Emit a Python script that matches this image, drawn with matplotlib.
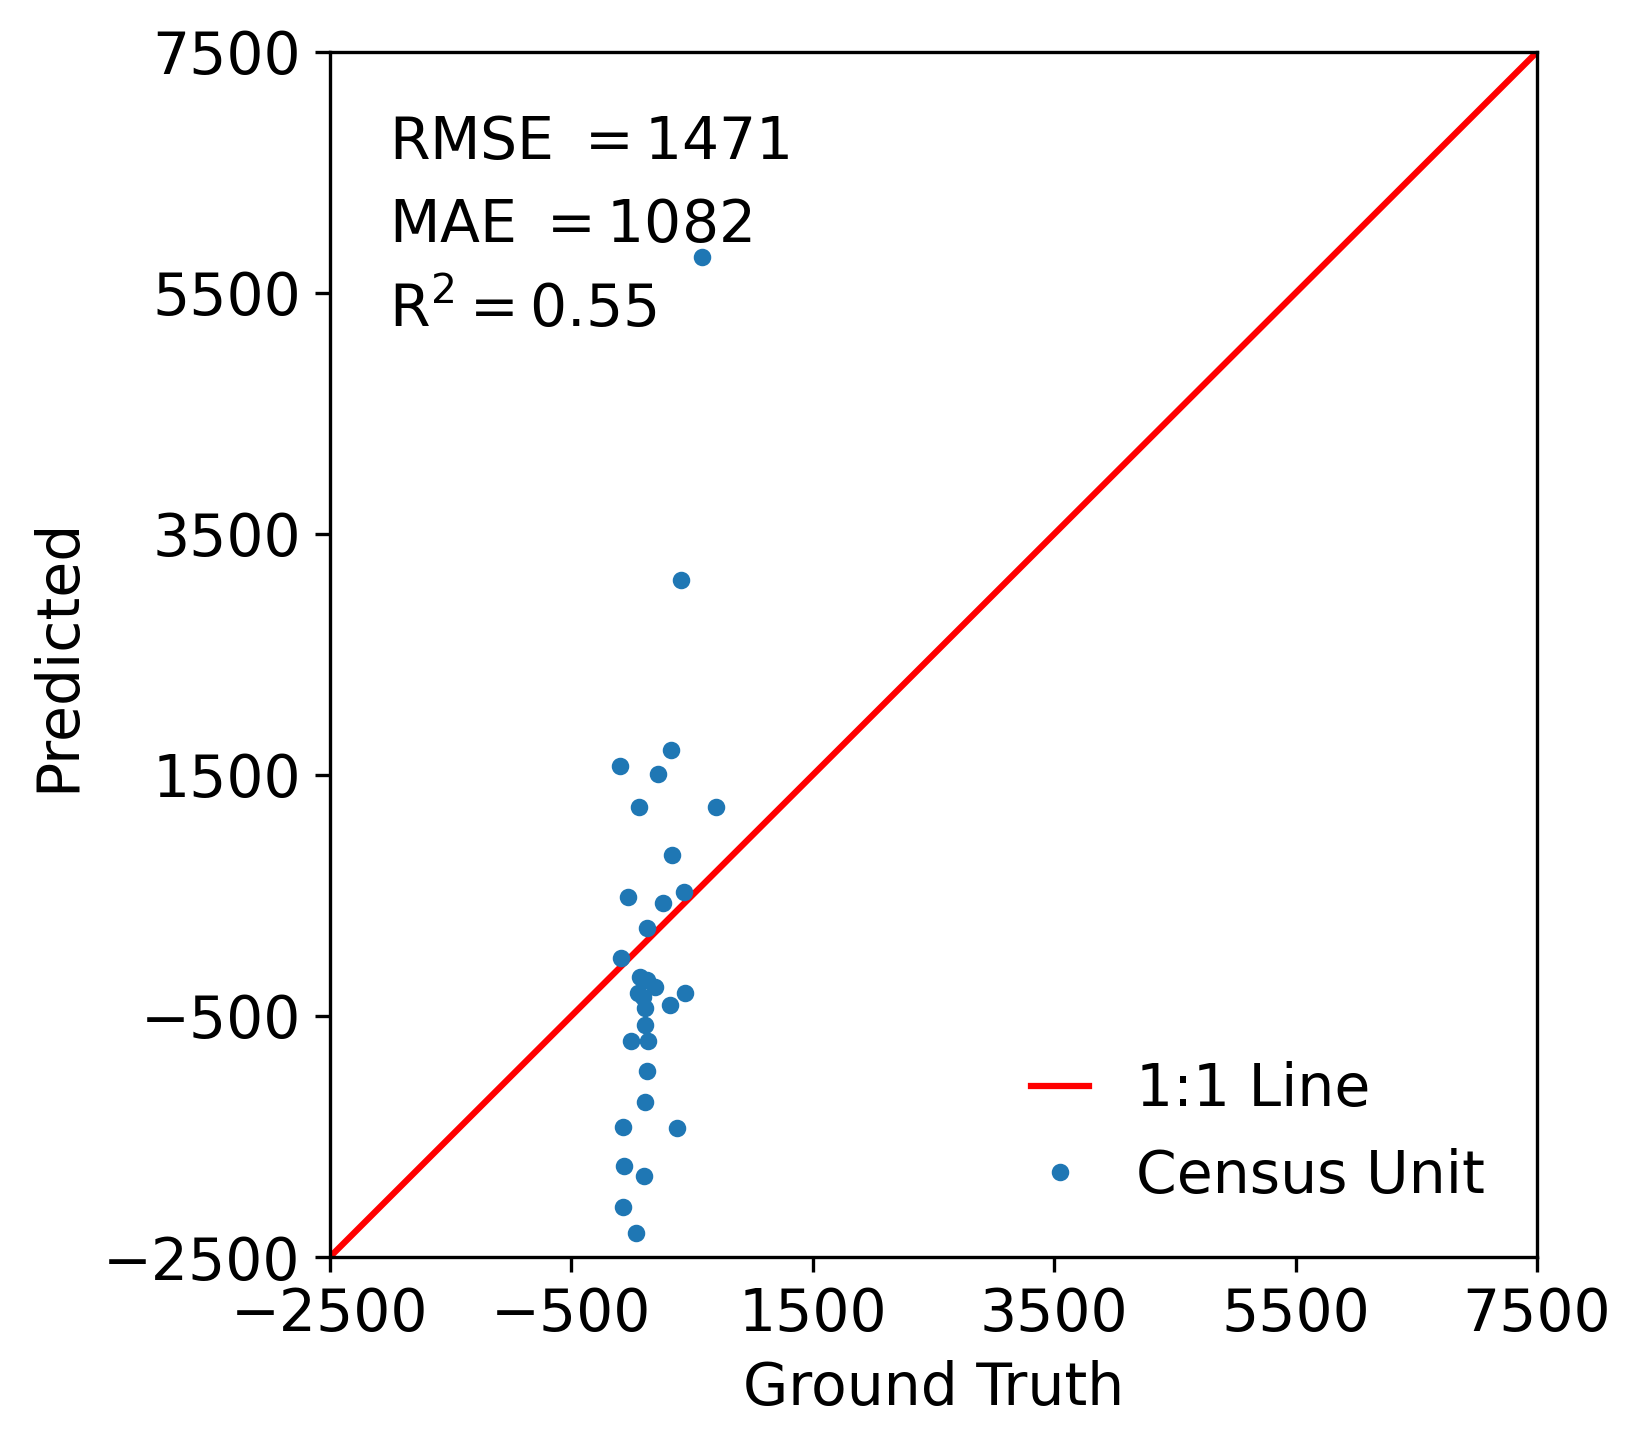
import matplotlib
matplotlib.use('Agg')
import matplotlib.pyplot as plt

# ground truth vs predicted per census unit
ground_truth = [579, 405, 327, -98, 215, 59, 700, 336, 431, -29, 261, 129, -92, 68, 124, 193,
                54, 96, 441, 110, 317, 110, -6, 137, 129, 112, -70, 377, -62, 104, -70, 35]
predicted = [5799, 3116, 1710, 1571, 1510, 1233, 1233, 833, 529, 485, 440, 228, -21, -174, -201, -257,
             -312, -340, -312, -436, -409, -575, -707, -707, -956, -1216, -1424, -1432, -1745, -1828, -2088, -2298]

lims = [-2500, 7500]
ticks = [-2500, -500, 1500, 3500, 5500, 7500]
metrics = [r'$\mathrm{RMSE\ } = 1471$', r'$\mathrm{MAE\ } = 1082$', r'$\mathrm{R}^2 = 0.55$']

fig = plt.figure(figsize=(1639 / 300, 1447 / 300), dpi=300)
ax = fig.add_axes([0.2013, 0.1313, 0.7365, 0.8328])

ax.plot(lims, lims, color='red', label='1:1 Line')
ax.plot(ground_truth, predicted, 'o', color='#1f77b4', ms=3.2, label='Census Unit')

ax.set_xlim(lims)
ax.set_ylim(lims)
ax.set_xticks(ticks)
ax.set_yticks(ticks)
ax.tick_params(labelsize=14)
ax.set_xlabel('Ground Truth', fontsize=14)
ax.set_ylabel('Predicted', fontsize=14)

for txt, yy in zip(metrics, [0.911, 0.842, 0.772]):
    ax.text(0.049, yy, txt, transform=ax.transAxes, fontsize=14, va='baseline', ha='left')

ax.legend(loc='lower right', fontsize=14, frameon=False, handlelength=1.0)

fig.savefig('out.png', dpi=300)
